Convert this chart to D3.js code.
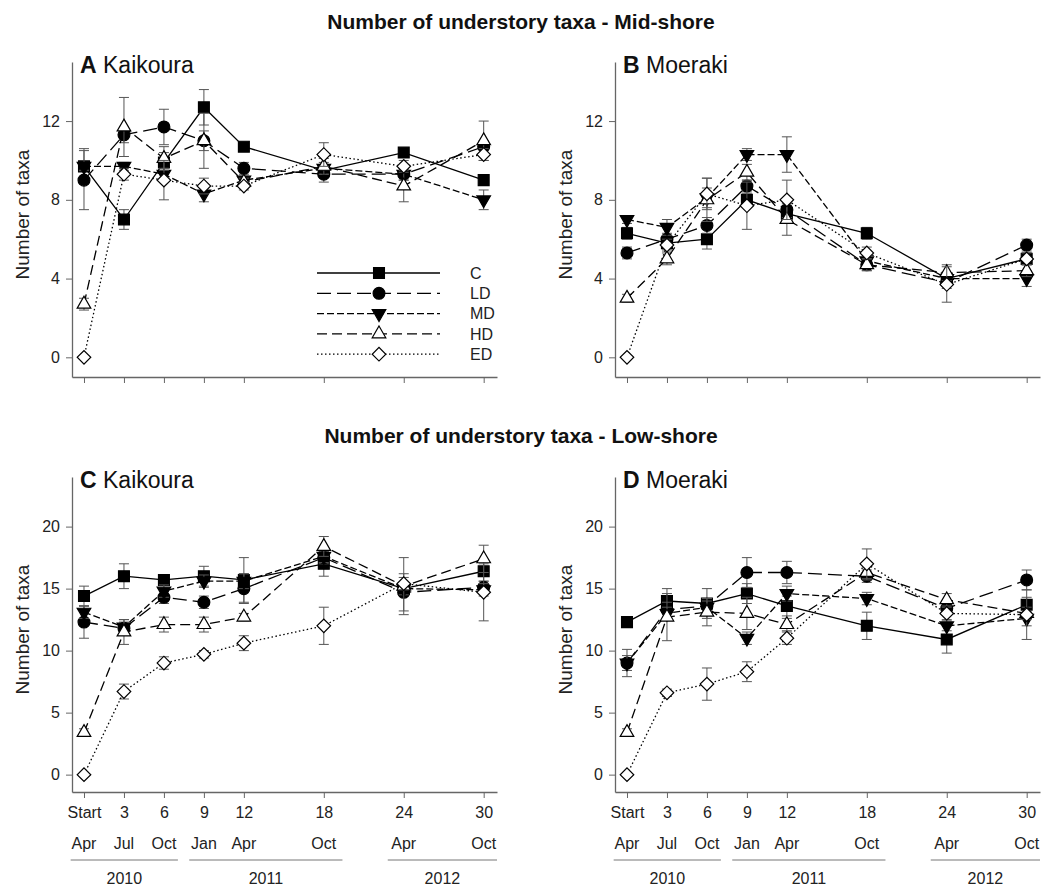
<!DOCTYPE html>
<html>
<head>
<meta charset="utf-8">
<script src="https://cdn.jsdelivr.net/npm/d3@7"></script>
<style>
  body { margin: 0; background: #fff; }
  svg { display: block; font-family: "Liberation Sans", Arial, sans-serif; }
</style>
</head>
<body>
<svg id="chart" width="1042" height="887"></svg>
<script>
// Sampling times (months since start) and their axis labels
const months = [0, 3, 6, 9, 12, 18, 24, 30];
const tickNames = ["Start", "3", "6", "9", "12", "18", "24", "30"];
const monthNames = ["Apr", "Jul", "Oct", "Jan", "Apr", "Oct", "Apr", "Oct"];
const years = ["2010", "2011", "2012"];
const yearSpans = [[-1, 7.05], [7.9, 19.4], [22.8, 31]]; // months covered by each year bracket
const treatments = ["C", "LD", "MD", "HD", "ED"];

// Mid-shore, Kaikoura: mean and SE per treatment (C, LD, MD, HD, ED)
const midKaikouraMean = [
  [9.7, 7.0, 9.9, 12.7, 10.7, 9.5, 10.4, 9.0],
  [9.0, 11.3, 11.7, 11.0, 9.6, 9.3, 9.3, 10.7],
  [9.7, 9.7, 9.3, 8.3, 9.0, 9.6, 9.3, 8.0],
  [2.7, 11.7, 10.1, 11.0, 8.9, 9.7, 8.7, 11.0],
  [0, 9.3, 9.0, 8.7, 8.7, 10.3, 9.7, 10.3]
];
const midKaikouraSE = [
  [0.9, 0.5, 0.5, 0.9, 0.2, 0.3, 0.2, 0.2],
  [1.5, 0.4, 0.9, 0.5, 0.3, 0.4, 0.3, 0.3],
  [0.2, 0.2, 0.3, 0.4, 0.2, 0.3, 0.3, 0.5],
  [0.3, 1.5, 0.6, 1.4, 0.2, 0.4, 0.8, 1.0],
  [0, 0.3, 1.0, 0.4, 0.2, 0.6, 0.3, 0.3]
];

// Mid-shore, Moeraki
const midMoerakiMean = [
  [6.3, 5.8, 6.0, 8.0, 7.3, 6.3, 4.0, 5.0],
  [5.3, 6.0, 6.7, 8.7, 7.5, 4.7, 3.8, 5.7],
  [7.0, 6.6, 8.1, 10.3, 10.3, 4.9, 4.0, 4.0],
  [3.0, 5.0, 8.0, 9.4, 7.0, 4.7, 4.3, 4.4],
  [0, 5.7, 8.3, 7.7, 8.0, 5.3, 3.7, 5.0]
];
const midMoerakiSE = [
  [0.3, 0.3, 0.5, 0.3, 0.3, 0.3, 0.3, 0.3],
  [0.3, 0.3, 0.4, 0.3, 0.4, 0.3, 0.3, 0.3],
  [0.2, 0.4, 0.5, 0.3, 0.9, 0.3, 0.2, 0.4],
  [0.2, 0.3, 1.1, 0.4, 0.8, 0.3, 0.4, 0.3],
  [0, 0.3, 0.8, 1.2, 1.0, 0.3, 0.9, 0.3]
];

// Low-shore, Kaikoura
const lowKaikouraMean = [
  [14.4, 16.0, 15.7, 16.0, 15.7, 17.0, 15.0, 16.4],
  [12.3, 11.8, 14.3, 13.9, 15.0, 17.5, 14.7, 15.1],
  [13.1, 11.9, 14.8, 15.6, 15.6, 17.6, 15.0, 14.9],
  [3.4, 11.5, 12.1, 12.1, 12.7, 18.4, 15.2, 17.4],
  [0, 6.7, 9.0, 9.7, 10.6, 12.0, 15.4, 14.7]
];
const lowKaikouraSE = [
  [0.8, 1.0, 0.4, 0.8, 1.8, 1.0, 0.5, 0.8],
  [1.3, 0.5, 0.5, 0.5, 1.2, 0.5, 1.5, 0.5],
  [0.5, 0.6, 0.5, 0.5, 0.6, 0.5, 0.5, 0.5],
  [0.3, 1.0, 0.6, 0.6, 0.3, 0.8, 2.3, 1.1],
  [0, 0.6, 0.5, 0.3, 0.6, 1.5, 0.5, 2.3]
];

// Low-shore, Moeraki
const lowMoerakiMean = [
  [12.3, 14.0, 13.8, 14.6, 13.6, 12.0, 10.9, 13.7],
  [9.0, 13.3, 13.6, 16.3, 16.3, 16.0, 13.4, 15.7],
  [9.0, 13.0, 13.5, 11.0, 14.6, 14.2, 12.0, 12.6],
  [3.4, 12.7, 13.1, 13.0, 12.1, 16.3, 14.1, 13.0],
  [0, 6.6, 7.3, 8.3, 11.0, 17.0, 13.0, 12.9]
];
const lowMoerakiSE = [
  [0.2, 1.0, 1.2, 0.8, 0.8, 1.1, 1.1, 0.6],
  [1.1, 0.6, 0.6, 1.2, 0.9, 0.5, 0.4, 0.8],
  [0.6, 0.5, 0.5, 0.5, 0.6, 0.5, 0.4, 0.6],
  [0.3, 1.9, 1.1, 1.3, 0.5, 0.6, 0.5, 0.5],
  [0, 0.3, 1.3, 0.8, 0.5, 1.2, 0.5, 2.0]
];

// ---- styling per treatment ----
const dashes = { C: null, LD: "14,6", MD: "7,3", HD: "10,5", ED: "1.5,2.5" };
const filled = { C: true, LD: true, MD: true, HD: false, ED: false };

function markerPath(t) {
  switch (t) {
    case "C":  return { d: d3.symbol(d3.symbolSquare, 118)(), rot: 0 };
    case "LD": return { d: d3.symbol(d3.symbolCircle, 110)(), rot: 0 };
    case "MD": return { d: d3.symbol(d3.symbolTriangle, 80)(), rot: 180 };
    case "HD": return { d: d3.symbol(d3.symbolTriangle, 80)(), rot: 0 };
    case "ED": return { d: d3.symbol(d3.symbolSquare, 92)(), rot: 45 };
  }
}

const svg = d3.select("#chart");

// section titles
svg.append("text").attr("x", 521).attr("y", 29).attr("text-anchor", "middle")
  .attr("font-size", 21).attr("font-weight", "bold").attr("fill", "#111")
  .text("Number of understory taxa - Mid-shore");
svg.append("text").attr("x", 521).attr("y", 443).attr("text-anchor", "middle")
  .attr("font-size", 21).attr("font-weight", "bold").attr("fill", "#111")
  .text("Number of understory taxa - Low-shore");

const panels = [
  { letter: "A", site: "Kaikoura", mean: midKaikouraMean, se: midKaikouraSE,
    x0: 72, top: 62, bottom: 377, yDomain: [-1, 15], yTicks: [0, 4, 8, 12], xLabels: false, legend: true },
  { letter: "B", site: "Moeraki", mean: midMoerakiMean, se: midMoerakiSE,
    x0: 615, top: 62, bottom: 377, yDomain: [-1, 15], yTicks: [0, 4, 8, 12], xLabels: false, legend: false },
  { letter: "C", site: "Kaikoura", mean: lowKaikouraMean, se: lowKaikouraSE,
    x0: 72, top: 477, bottom: 792, yDomain: [-1.4, 24], yTicks: [0, 5, 10, 15, 20], xLabels: true, legend: false },
  { letter: "D", site: "Moeraki", mean: lowMoerakiMean, se: lowMoerakiSE,
    x0: 615, top: 477, bottom: 792, yDomain: [-1.4, 24], yTicks: [0, 5, 10, 15, 20], xLabels: true, legend: false }
];

const axisColor = "#666";
const textColor = "#222";

panels.forEach(p => {
  const x = d3.scaleLinear().domain([-0.9, 31]).range([p.x0, p.x0 + 425]);
  const y = d3.scaleLinear().domain(p.yDomain).range([p.bottom, p.top]);
  const g = svg.append("g");

  // y axis
  const yAxis = g.append("g").attr("transform", `translate(${p.x0},0)`)
    .call(d3.axisLeft(y).tickValues(p.yTicks).tickSize(6).tickSizeOuter(0).tickPadding(6));
  yAxis.select(".domain").attr("stroke", axisColor).attr("stroke-width", 1.3);
  yAxis.selectAll(".tick line").attr("stroke", axisColor);
  yAxis.selectAll(".tick text").attr("font-size", 16).attr("fill", textColor)
    .attr("font-family", "Liberation Sans, Arial, sans-serif");

  // x axis
  const xAxis = g.append("g").attr("transform", `translate(0,${p.bottom})`)
    .call(d3.axisBottom(x).tickValues(months).tickSize(6).tickSizeOuter(0)
      .tickFormat((d, i) => p.xLabels ? tickNames[i] : ""));
  xAxis.select(".domain").attr("stroke", axisColor).attr("stroke-width", 1.3);
  xAxis.selectAll(".tick line").attr("stroke", axisColor);
  xAxis.selectAll(".tick text").attr("font-size", 16).attr("fill", textColor)
    .attr("font-family", "Liberation Sans, Arial, sans-serif").attr("dy", "1.05em");

  if (p.xLabels) {
    g.selectAll("text.month").data(months).join("text").attr("class", "month")
      .attr("x", d => x(d)).attr("y", p.bottom + 57).attr("text-anchor", "middle")
      .attr("font-size", 16).attr("fill", textColor)
      .text((d, i) => monthNames[i]);
    yearSpans.forEach((s, i) => {
      g.append("line").attr("x1", x(s[0])).attr("x2", x(s[1]))
        .attr("y1", p.bottom + 68).attr("y2", p.bottom + 68)
        .attr("stroke", "#777").attr("stroke-width", 1);
      g.append("text").attr("x", (x(s[0]) + x(s[1])) / 2).attr("y", p.bottom + 92)
        .attr("text-anchor", "middle").attr("font-size", 16).attr("fill", textColor)
        .text(years[i]);
    });
  }

  // y-axis title
  const yMid = (p.top + p.bottom) / 2 - 5;
  g.append("text").attr("transform", `translate(${p.x0 - 50},${yMid}) rotate(-90)`)
    .attr("text-anchor", "middle").attr("dy", "0.35em").attr("font-size", 19)
    .attr("fill", textColor).text("Number of taxa");

  // panel label
  const lab = g.append("text").attr("x", p.x0 + 8).attr("y", p.top + 11)
    .attr("font-size", 23).attr("fill", "#111");
  lab.append("tspan").attr("font-weight", "bold").text(p.letter);
  lab.append("tspan").text(" " + p.site);

  const line = d3.line().x(d => x(d.m)).y(d => y(d.v));

  treatments.forEach((t, k) => {
    const pts = months.map((m, i) => ({ m, v: p.mean[k][i], e: p.se[k][i] }));
    const sg = g.append("g");
    // error bars
    pts.filter(d => d.e > 0).forEach(d => {
      const cx = x(d.m), y1 = y(d.v - d.e), y2 = y(d.v + d.e);
      sg.append("line").attr("x1", cx).attr("x2", cx).attr("y1", y1).attr("y2", y2)
        .attr("stroke", "#555").attr("stroke-width", 1);
      [y1, y2].forEach(yy => sg.append("line").attr("x1", cx - 5).attr("x2", cx + 5)
        .attr("y1", yy).attr("y2", yy).attr("stroke", "#555").attr("stroke-width", 1));
    });
    // connecting line
    sg.append("path").datum(pts).attr("d", line).attr("fill", "none")
      .attr("stroke", "#000").attr("stroke-width", 1.3)
      .attr("stroke-dasharray", dashes[t]);
    // markers
    const mk = markerPath(t);
    sg.selectAll("path.pt").data(pts).join("path").attr("class", "pt")
      .attr("d", mk.d)
      .attr("transform", d => `translate(${x(d.m)},${y(d.v)}) rotate(${mk.rot})`)
      .attr("fill", filled[t] ? "#000" : "#fff")
      .attr("stroke", "#000").attr("stroke-width", 1.2);
  });

  // legend
  if (p.legend) {
    treatments.forEach((t, k) => {
      const ly = 273 + k * 20.3;
      svg.append("line").attr("x1", 317).attr("x2", 440).attr("y1", ly).attr("y2", ly)
        .attr("stroke", "#000").attr("stroke-width", 1.3).attr("stroke-dasharray", dashes[t]);
      const mk = markerPath(t);
      svg.append("path").attr("d", mk.d)
        .attr("transform", `translate(379,${ly}) rotate(${mk.rot})`)
        .attr("fill", filled[t] ? "#000" : "#fff")
        .attr("stroke", "#000").attr("stroke-width", 1.2);
      svg.append("text").attr("x", 470).attr("y", ly).attr("dy", "0.35em")
        .attr("font-size", 16).attr("fill", textColor).text(t);
    });
  }
});
</script>
</body>
</html>
